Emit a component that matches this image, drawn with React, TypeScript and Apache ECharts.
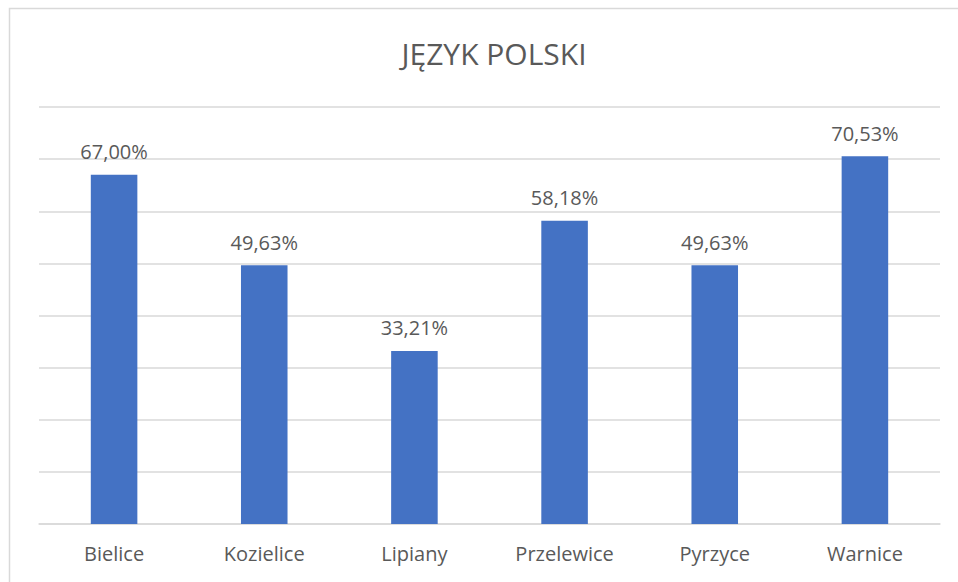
import React, { useEffect, useRef } from "react";
import * as echarts from "echarts";

const categories = ["Bielice", "Kozielice", "Lipiany", "Przelewice", "Pyrzyce", "Warnice"];
const values = [67.0, 49.63, 33.21, 58.18, 49.63, 70.53];
const titleText = "JĘZYK POLSKI";

export default function App() {
  const ref = useRef<HTMLDivElement>(null);
  useEffect(() => {
    if (!ref.current) return;
    const chart = echarts.init(ref.current, undefined, { renderer: "svg" });
    const font = "'Open Sans', 'Noto Sans', sans-serif";
    chart.setOption({
      animation: false,
      backgroundColor: "#ffffff",
      title: {
        text: titleText,
        left: 489,
        textAlign: "center",
        top: 33,
        textStyle: { fontFamily: font, fontSize: 30, fontWeight: "normal", color: "#595959" },
      },
      graphic: [
        {
          type: "rect",
          shape: { x: 9.5, y: 8.5, width: 1200, height: 1200 },
          style: { fill: "none", stroke: "#d9d9d9", lineWidth: 1.5 },
          silent: true,
        },
      ],
      grid: { left: 39, right: 18, top: 107, bottom: 58, containLabel: false },
      xAxis: {
        type: "category",
        data: categories,
        axisLine: { show: true, lineStyle: { color: "#d9d9d9", width: 1.5 } },
        axisTick: { show: false },
        axisLabel: { fontFamily: font, fontSize: 20, color: "#595959", margin: 19 },
      },
      yAxis: {
        type: "value",
        min: 0,
        max: 80,
        interval: 10,
        axisLabel: { show: false },
        axisLine: { show: false },
        axisTick: { show: false },
        splitLine: { show: true, lineStyle: { color: "#d9d9d9", width: 1.5 } },
      },
      series: [
        {
          type: "bar",
          data: values,
          barWidth: "31%",
          itemStyle: { color: "#4472C4" },
          label: {
            show: true,
            position: "top",
            distance: 13,
            fontFamily: font,
            fontSize: 20,
            color: "#595959",
            formatter: (p: any) => p.value.toFixed(2).replace(".", ",") + "%",
          },
        },
      ],
    });
    return () => chart.dispose();
  }, []);
  return (
    <div
      ref={ref}
      style={{ position: "absolute", left: 0, top: 0, width: 958, height: 582, background: "#fff" }}
    />
  );
}
